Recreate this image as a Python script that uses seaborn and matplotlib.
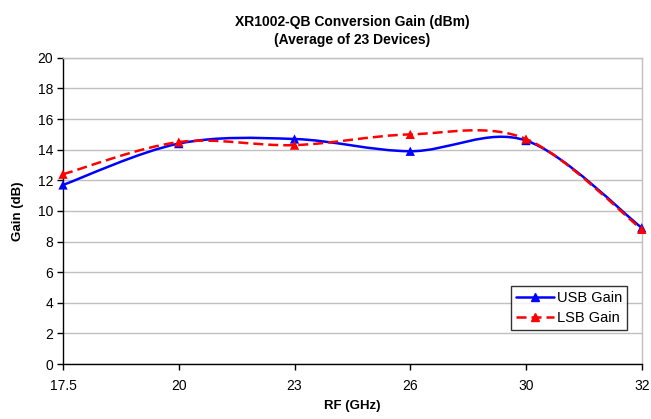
import numpy as np
import pandas as pd
import matplotlib
matplotlib.use("Agg")
import matplotlib.pyplot as plt
from matplotlib.path import Path
from matplotlib.patches import PathPatch
from matplotlib.lines import Line2D
import seaborn as sns

# Data
rf_labels = ["17.5", "20", "23", "26", "30", "32"]
usb_gain = [11.7, 14.4, 14.7, 13.9, 14.6, 8.9]
lsb_gain = [12.4, 14.5, 14.3, 15.0, 14.7, 8.8]

df = pd.DataFrame({
    "pos": list(range(len(rf_labels))) * 2,
    "gain": usb_gain + lsb_gain,
    "series": ["USB Gain"] * len(rf_labels) + ["LSB Gain"] * len(rf_labels),
})

sns.set_style("white")
plt.rcParams["font.family"] = ["Liberation Sans", "DejaVu Sans"]
plt.rcParams["text.color"] = "black"
plt.rcParams["axes.labelcolor"] = "black"
plt.rcParams["xtick.color"] = "black"
plt.rcParams["ytick.color"] = "black"

fig = plt.figure(figsize=(6.51, 4.19), dpi=100)
ax = fig.add_axes([0.0968, 0.131, 0.889, 0.731])


def smooth_path(xs, ys):
    # Excel-style smoothed line as cubic Bezier segments (Catmull-Rom control points)
    pts = np.column_stack([xs, ys]).astype(float)
    n = len(pts)
    verts = [pts[0]]
    codes = [Path.MOVETO]
    for i in range(n - 1):
        p0 = pts[max(i - 1, 0)]
        p1 = pts[i]
        p2 = pts[i + 1]
        p3 = pts[min(i + 2, n - 1)]
        c1 = p1 + (p2 - p0) / 6.0
        c2 = p2 - (p3 - p1) / 6.0
        verts += [c1, c2, p2]
        codes += [Path.CURVE4] * 3
    return Path(verts, codes)


colors = {"USB Gain": "#0000ff", "LSB Gain": "#ff0000"}
styles = {"USB Gain": "-", "LSB Gain": (0, (4, 2))}

for name in ["USB Gain", "LSB Gain"]:
    sub = df[df["series"] == name]
    patch = PathPatch(smooth_path(sub["pos"], sub["gain"]), facecolor="none",
                      edgecolor=colors[name], lw=1.8, linestyle=styles[name],
                      zorder=3, clip_on=False)
    ax.add_patch(patch)

sns.scatterplot(data=df, x="pos", y="gain", hue="series", palette=colors,
                marker="^", s=45, edgecolor="none", ax=ax, zorder=4,
                clip_on=False, legend=False)

ax.set_xlim(0, len(rf_labels) - 1)
ax.set_ylim(0, 20)
ax.set_yticks(range(0, 21, 2))
ax.set_xticks(range(len(rf_labels)))
ax.set_xticklabels(rf_labels)
ax.yaxis.grid(True, color="#c0c0c0", lw=1)
ax.xaxis.grid(False)
ax.set_axisbelow(True)

for s in ["top", "right"]:
    ax.spines[s].set_visible(True)
    ax.spines[s].set_color("#c0c0c0")
    ax.spines[s].set_linewidth(1)
for s in ["left", "bottom"]:
    ax.spines[s].set_color("black")
    ax.spines[s].set_linewidth(1)

ax.tick_params(axis="both", direction="out", length=4, width=1, color="black",
               labelsize=10, pad=3, left=True, bottom=True)
ax.tick_params(axis="x", pad=7)

ax.set_xlabel("RF (GHz)", fontsize=9.5, fontweight="bold", labelpad=5)
ax.set_ylabel("Gain (dB)", fontsize=9.5, fontweight="bold", labelpad=10)
ax.set_title("XR1002-QB Conversion Gain (dBm)\n(Average of 23 Devices)",
             fontsize=10, fontweight="bold", pad=10, linespacing=1.4)

handles = [
    Line2D([], [], color="#0000ff", lw=1.8, marker="^", markersize=6, label="USB Gain"),
    Line2D([], [], color="#ff0000", lw=1.8, ls=(0, (4, 2)), marker="^", markersize=6,
           label="LSB Gain"),
]
leg = ax.legend(handles=handles, loc="lower right", bbox_to_anchor=(0.975, 0.11),
                frameon=True, fancybox=False, edgecolor="black", fontsize=10.5,
                handlelength=2.6, borderpad=0.35, labelspacing=0.4, handletextpad=0.2,
                borderaxespad=0)
leg.get_frame().set_linewidth(1)

fig.savefig("out.png", dpi=100)
